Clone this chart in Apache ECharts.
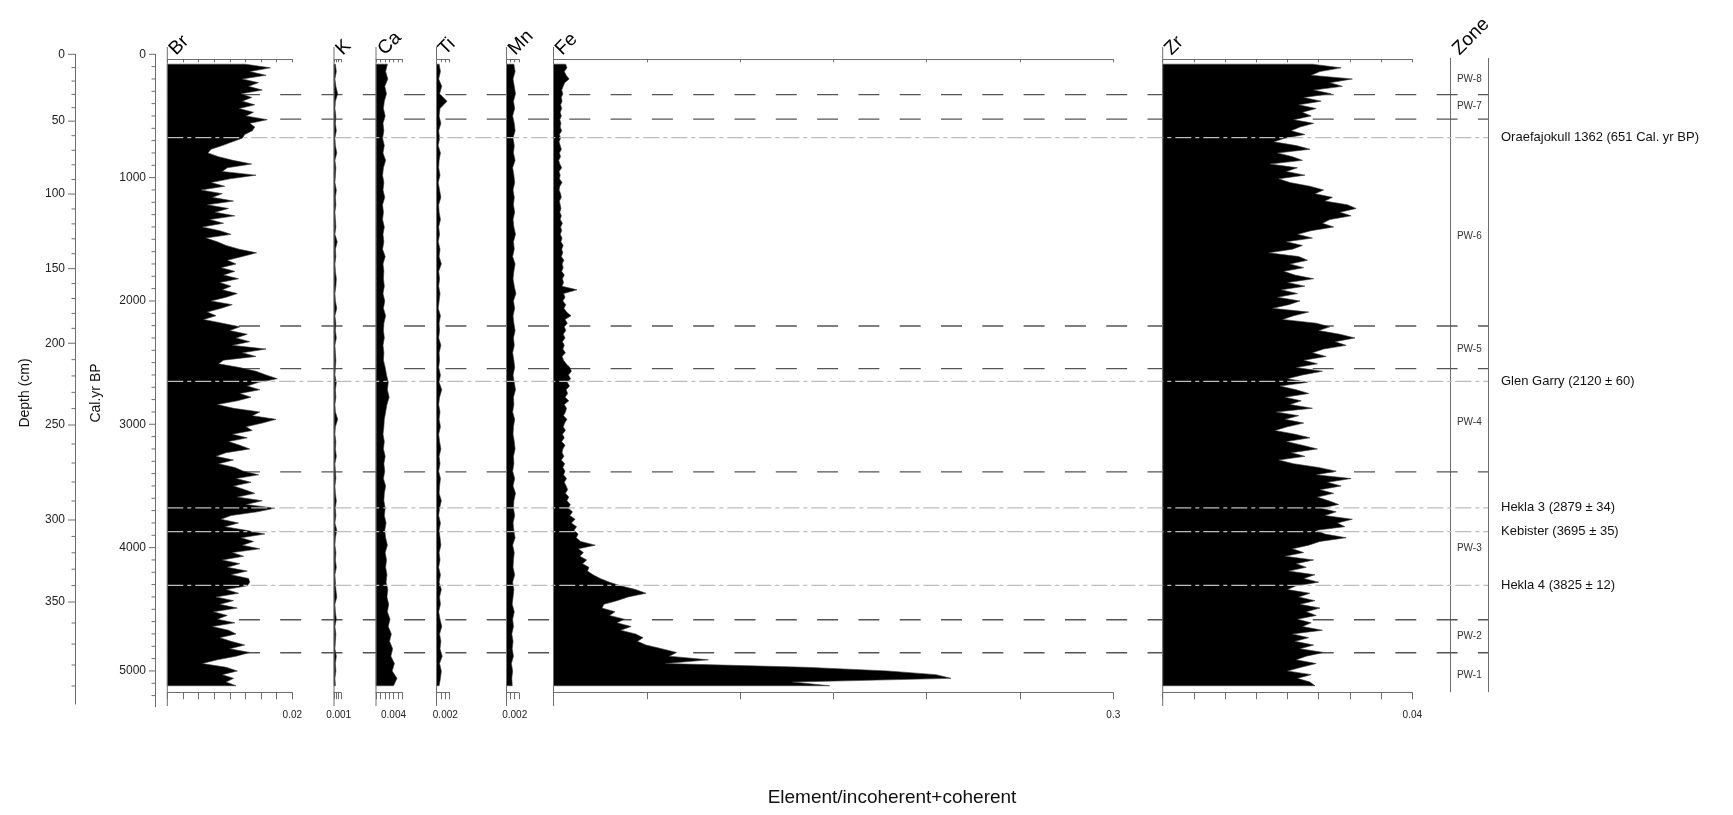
<!DOCTYPE html>
<html><head><meta charset="utf-8">
<script src="https://cdn.jsdelivr.net/npm/echarts@6/dist/echarts.min.js"></script>
<style>html,body{margin:0;padding:0;background:#fff}#c{width:1733px;height:815px}</style>
</head><body><div id="c"></div>
<script>
// ---------------- DATA ----------------
const AGES = [80,110,140,170,200,230,260,290,320,350,
380,410,440,470,500,530,560,590,620,650,
680,710,740,770,800,830,860,890,920,950,
980,1010,1040,1070,1100,1130,1160,1190,1220,1250,
1280,1310,1340,1370,1400,1430,1460,1490,1520,1550,
1580,1610,1640,1670,1700,1730,1760,1790,1820,1850,
1880,1910,1940,1970,2000,2030,2060,2090,2120,2150,
2180,2210,2240,2270,2300,2330,2360,2390,2420,2450,
2480,2510,2540,2570,2600,2630,2660,2690,2720,2750,
2780,2810,2840,2870,2900,2930,2960,2990,3020,3050,
3080,3110,3140,3170,3200,3230,3260,3290,3320,3350,
3380,3410,3440,3470,3500,3530,3560,3590,3620,3650,
3680,3710,3740,3770,3800,3830,3860,3890,3920,3950,
3980,4010,4040,4070,4100,4130,4160,4190,4220,4250,
4280,4310,4340,4370,4400,4430,4460,4490,4520,4550,
4580,4610,4640,4670,4700,4730,4760,4790,4820,4850,
4880,4910,4940,4970,5000,5030,5060,5090,5120];

const AGES_SMALL = [80,140,200,260,320,380,440,500,560,620,
680,740,800,860,920,980,1040,1100,1160,1220,
1280,1340,1400,1460,1520,1580,1640,1700,1760,1820,
1880,1940,2000,2060,2120,2180,2240,2300,2360,2420,
2480,2540,2600,2660,2720,2780,2840,2900,2960,3020,
3080,3140,3200,3260,3320,3380,3440,3500,3560,3620,
3680,3740,3800,3860,3920,3980,4040,4100,4160,4220,
4280,4340,4400,4460,4520,4580,4640,4700,4760,4820,
4880,4940,5000,5060,5120];

const BR = [0.0125,0.0165,0.0132,0.0158,0.0120,0.0146,0.0130,0.0152,0.0118,0.0135,
0.0120,0.0140,0.0115,0.0138,0.0126,0.0160,0.0132,0.0140,0.0136,0.0124,
0.0120,0.0104,0.0088,0.0070,0.0065,0.0082,0.0105,0.0135,0.0096,0.0088,
0.0142,0.0100,0.0070,0.0092,0.0054,0.0088,0.0072,0.0106,0.0064,0.0098,
0.0076,0.0108,0.0068,0.0090,0.0056,0.0084,0.0102,0.0062,0.0080,0.0094,
0.0115,0.0143,0.0120,0.0096,0.0110,0.0086,0.0108,0.0090,0.0114,0.0084,
0.0102,0.0088,0.0112,0.0094,0.0070,0.0104,0.0086,0.0064,0.0078,0.0058,
0.0088,0.0116,0.0100,0.0128,0.0110,0.0132,0.0104,0.0158,0.0120,0.0142,
0.0090,0.0082,0.0116,0.0142,0.0158,0.0176,0.0146,0.0128,0.0148,0.0116,
0.0134,0.0112,0.0080,0.0106,0.0148,0.0136,0.0174,0.0152,0.0126,0.0136,
0.0104,0.0128,0.0098,0.0116,0.0132,0.0094,0.0078,0.0106,0.0082,0.0108,
0.0122,0.0146,0.0110,0.0134,0.0106,0.0124,0.0140,0.0112,0.0152,0.0126,
0.0172,0.0144,0.0102,0.0086,0.0114,0.0092,0.0126,0.0156,0.0118,0.0138,
0.0120,0.0148,0.0104,0.0122,0.0088,0.0116,0.0096,0.0128,0.0102,0.0130,
0.0132,0.0128,0.0094,0.0114,0.0078,0.0106,0.0084,0.0112,0.0074,0.0096,
0.0080,0.0108,0.0072,0.0098,0.0110,0.0084,0.0102,0.0124,0.0100,0.0132,
0.0110,0.0080,0.0056,0.0094,0.0112,0.0088,0.0106,0.0094,0.0110];

const FE = [0.0065,0.0072,0.0058,0.0068,0.0084,0.0060,0.0052,0.0044,0.0050,0.0042,
0.0046,0.0038,0.0044,0.0036,0.0042,0.0034,0.0040,0.0036,0.0044,0.0032,
0.0038,0.0030,0.0036,0.0042,0.0032,0.0038,0.0028,0.0034,0.0044,0.0030,
0.0036,0.0032,0.0046,0.0034,0.0030,0.0038,0.0042,0.0032,0.0036,0.0040,
0.0034,0.0042,0.0036,0.0048,0.0038,0.0044,0.0036,0.0046,0.0040,0.0052,
0.0044,0.0050,0.0042,0.0056,0.0046,0.0052,0.0044,0.0058,0.0048,0.0054,
0.0046,0.0126,0.0054,0.0062,0.0050,0.0066,0.0056,0.0070,0.0094,0.0062,
0.0074,0.0058,0.0066,0.0052,0.0062,0.0048,0.0058,0.0050,0.0064,0.0046,
0.0054,0.0068,0.0088,0.0096,0.0080,0.0092,0.0074,0.0086,0.0068,0.0076,
0.0062,0.0082,0.0058,0.0070,0.0064,0.0054,0.0072,0.0060,0.0052,0.0064,
0.0048,0.0058,0.0044,0.0062,0.0050,0.0046,0.0056,0.0042,0.0060,0.0050,
0.0062,0.0054,0.0070,0.0058,0.0068,0.0076,0.0064,0.0082,0.0072,0.0090,
0.0080,0.0102,0.0088,0.0116,0.0096,0.0124,0.0110,0.0132,0.0122,0.0146,
0.0224,0.0134,0.0160,0.0142,0.0178,0.0156,0.0190,0.0182,0.0212,0.0250,
0.0300,0.0360,0.0440,0.0496,0.0400,0.0340,0.0270,0.0260,0.0330,0.0300,
0.0380,0.0340,0.0416,0.0360,0.0440,0.0480,0.0450,0.0496,0.0580,0.0660,
0.0620,0.0830,0.0600,0.1350,0.1790,0.2050,0.2130,0.1280,0.1480];

const ZR = [0.0240,0.0286,0.0252,0.0238,0.0304,0.0268,0.0288,0.0242,0.0270,0.0226,
0.0254,0.0218,0.0246,0.0224,0.0238,0.0210,0.0242,0.0220,0.0206,0.0228,
0.0196,0.0178,0.0214,0.0236,0.0184,0.0208,0.0224,0.0172,0.0216,0.0198,
0.0228,0.0186,0.0204,0.0236,0.0258,0.0244,0.0272,0.0260,0.0296,0.0310,
0.0284,0.0302,0.0268,0.0256,0.0274,0.0238,0.0216,0.0240,0.0198,0.0224,
0.0208,0.0170,0.0218,0.0232,0.0204,0.0226,0.0194,0.0212,0.0242,0.0200,
0.0228,0.0190,0.0216,0.0184,0.0220,0.0202,0.0176,0.0234,0.0210,0.0192,
0.0246,0.0268,0.0250,0.0284,0.0308,0.0276,0.0294,0.0258,0.0240,0.0262,
0.0226,0.0248,0.0214,0.0256,0.0224,0.0200,0.0232,0.0188,0.0214,0.0234,
0.0196,0.0222,0.0204,0.0240,0.0182,0.0218,0.0196,0.0226,0.0200,0.0180,
0.0212,0.0236,0.0198,0.0224,0.0248,0.0206,0.0228,0.0186,0.0210,0.0250,
0.0278,0.0246,0.0302,0.0264,0.0286,0.0252,0.0274,0.0248,0.0266,0.0282,
0.0254,0.0278,0.0260,0.0304,0.0280,0.0292,0.0246,0.0260,0.0294,0.0252,
0.0234,0.0208,0.0226,0.0196,0.0242,0.0214,0.0230,0.0202,0.0244,0.0226,
0.0250,0.0214,0.0200,0.0236,0.0218,0.0244,0.0220,0.0252,0.0230,0.0246,
0.0216,0.0238,0.0224,0.0256,0.0208,0.0234,0.0212,0.0242,0.0220,0.0258,
0.0230,0.0214,0.0246,0.0222,0.0200,0.0238,0.0216,0.0236,0.0244];

const K = [0.0003,0.0005,0.0002,0.0004,0.0008,0.0003,0.0002,0.0004,0.0003,0.0005,
0.0002,0.0003,0.0006,0.0002,0.0004,0.0003,0.0002,0.0005,0.0003,0.0004,
0.0002,0.0003,0.0004,0.0002,0.0007,0.0003,0.0004,0.0002,0.0003,0.0005,
0.0004,0.0002,0.0003,0.0006,0.0002,0.0004,0.0003,0.0005,0.0002,0.0003,
0.0004,0.0003,0.0002,0.0005,0.0003,0.0004,0.0002,0.0003,0.0008,0.0003,
0.0002,0.0004,0.0003,0.0005,0.0002,0.0003,0.0004,0.0002,0.0003,0.0005,
0.0003,0.0004,0.0002,0.0006,0.0003,0.0002,0.0004,0.0003,0.0005,0.0002,
0.0003,0.0004,0.0006,0.0002,0.0003,0.0005,0.0002,0.0004,0.0003,0.0002,
0.0005,0.0003,0.0004,0.0002,0.0003];

const CA = [0.0026,0.0022,0.0027,0.0020,0.0024,0.0019,0.0017,0.0021,0.0016,0.0018,
0.0015,0.0019,0.0016,0.0022,0.0017,0.0015,0.0018,0.0016,0.0020,0.0015,
0.0017,0.0015,0.0019,0.0016,0.0018,0.0015,0.0021,0.0016,0.0018,0.0017,
0.0019,0.0016,0.0020,0.0017,0.0022,0.0018,0.0017,0.0019,0.0016,0.0018,
0.0017,0.0021,0.0024,0.0028,0.0026,0.0030,0.0025,0.0022,0.0019,0.0018,
0.0016,0.0019,0.0017,0.0021,0.0018,0.0020,0.0017,0.0022,0.0019,0.0018,
0.0021,0.0019,0.0023,0.0020,0.0022,0.0026,0.0021,0.0024,0.0022,0.0025,
0.0023,0.0027,0.0025,0.0029,0.0026,0.0032,0.0028,0.0035,0.0031,0.0038,
0.0034,0.0042,0.0037,0.0048,0.0040];

const TI = [0.0006,0.0009,0.0005,0.0012,0.0007,0.0024,0.0008,0.0006,0.0010,0.0005,
0.0007,0.0004,0.0009,0.0006,0.0005,0.0008,0.0004,0.0007,0.0010,0.0005,
0.0006,0.0009,0.0005,0.0007,0.0004,0.0008,0.0006,0.0011,0.0005,0.0007,
0.0005,0.0008,0.0006,0.0004,0.0009,0.0006,0.0007,0.0005,0.0010,0.0006,
0.0007,0.0005,0.0009,0.0006,0.0012,0.0007,0.0005,0.0008,0.0006,0.0009,
0.0005,0.0007,0.0010,0.0006,0.0008,0.0005,0.0009,0.0007,0.0006,0.0011,
0.0007,0.0005,0.0009,0.0006,0.0008,0.0010,0.0006,0.0008,0.0005,0.0009,
0.0006,0.0011,0.0007,0.0009,0.0005,0.0008,0.0012,0.0007,0.0010,0.0008,
0.0013,0.0007,0.0011,0.0009,0.0006];

const MN = [0.0018,0.0021,0.0016,0.0019,0.0022,0.0017,0.0020,0.0015,0.0019,0.0021,
0.0016,0.0019,0.0017,0.0021,0.0015,0.0018,0.0020,0.0016,0.0019,0.0017,
0.0020,0.0016,0.0018,0.0022,0.0017,0.0019,0.0015,0.0021,0.0018,0.0016,
0.0019,0.0023,0.0017,0.0020,0.0016,0.0018,0.0021,0.0017,0.0019,0.0015,
0.0018,0.0020,0.0016,0.0019,0.0022,0.0017,0.0018,0.0015,0.0020,0.0017,
0.0016,0.0019,0.0021,0.0017,0.0018,0.0015,0.0020,0.0016,0.0022,0.0018,
0.0017,0.0020,0.0016,0.0018,0.0021,0.0015,0.0019,0.0017,0.0016,0.0020,
0.0015,0.0018,0.0016,0.0014,0.0019,0.0015,0.0017,0.0013,0.0016,0.0014,
0.0017,0.0012,0.0015,0.0013,0.0014];

const ELEMENTS = ['Br','K','Ca','Ti','Mn','Fe','Zr'];
const AXIS_MAX = [0.02, 0.0015, 0.006, 0.003, 0.003, 0.3, 0.04];
const AXIS_STEP = [0.0025, 0.0005, 0.001, 0.001, 0.001, 0.05, 0.005];
const TICK_LABELS = ['0.02','0.001','0.004','0.002','0.002','0.3','0.04'];

const DEPTH_TICKS = [0,10,20,30,40,50,60,70,80,90,100,110,120,130,140,150,160,170,180,190,200,210,220,230,240,250,260,270,280,290,300,310,320,330,340,350,360,370,380,390];
const DEPTH_TICK_AGES = [0,108,217,325,433,542,660,778,896,1015,1133,1254,1375,1496,1617,1738,1859,1980,2101,2222,2343,2476,2608,2741,2873,3006,3160,3314,3468,3622,3776,3909,4042,4175,4308,4441,4611,4782,4952,5122];
const CAL_LABELS = [0,1000,2000,3000,4000,5000];

const ZONE_BOUNDS = [327,526,2203,2549,3386,4585,4852];
const ZONE_NAMES = ['PW-8','PW-7','PW-6','PW-5','PW-4','PW-3','PW-2','PW-1'];
const ZONE_LABEL_AGES = [200,425,1477,2390,2984,4006,4722,5033];
const TEPHRA_NAMES = ['Oraefajokull 1362 (651 Cal. yr BP)','Glen Garry (2120 \u00b1 60)','Hekla 3 (2879 \u00b1 34)','Kebister (3695 \u00b1 35)','Hekla 4 (3825 \u00b1 12)'];
const TEPHRA_AGES = [676,2652,3677,3870,4306];

// ---------------- LAYOUT ----------------
const FONT = 'Liberation Sans, Arial, sans-serif';
const AX = '#6e6e6e';
const Y0 = 54.3, PXY = 0.12333;           // Cal axis: y of age 0, px per year
const PT = 59.3, PB = 692.7;               // panel top / bottom axis lines
const ageOfY = y => (y - Y0) / PXY;
const PANEL_LEFT = [167.3, 334, 376, 436.5, 506.5, 553.5, 1162.7];
const PANEL_WIDTH = [125, 7, 26.3, 13.2, 12.3, 559.8, 249.6];
const PANEL_DATA = [[AGES,BR],[AGES_SMALL,K],[AGES_SMALL,CA],[AGES_SMALL,TI],[AGES_SMALL,MN],[AGES,FE],[AGES,ZR]];
const ZONE_L = 1450.7, ZONE_R = 1488;
const TITLE_SIZE = 19;

const grids = [], xAxes = [], yAxes = [], series = [], graphics = [];

function profile(xi, yi, ages, vals){
  return {type:'custom', xAxisIndex:xi, yAxisIndex:yi, z:3, silent:true, clip:false,
    data:[[0, ages[0]]],
    renderItem:function(params, api){
      const pts = [api.coord([0, ages[0]])];
      for (let i = 0; i < ages.length; i++) pts.push(api.coord([vals[i], ages[i]]));
      pts.push(api.coord([0, ages[ages.length-1]]));
      return {type:'polygon', shape:{points:pts}, style:{fill:'#000', stroke:'#3c3c3c', lineWidth:0.6}};
    }};
}

function title(x, text){
  graphics.push({type:'text', x:x + 5, y:52, rotation:Math.PI/4, silent:true,
    style:{text:text, fontSize:TITLE_SIZE, fontFamily:FONT, fill:'#000', align:'left', verticalAlign:'middle'}});
}

ELEMENTS.forEach((name, i) => {
  const gi = grids.push({left:PANEL_LEFT[i], top:PT, width:PANEL_WIDTH[i], height:PB-PT, outerBoundsMode:'none'}) - 1;
  const lab = TICK_LABELS[i], labV = parseFloat(lab), step = AXIS_STEP[i];
  const xb = xAxes.push({gridIndex:gi, type:'value', position:'bottom', min:0, max:AXIS_MAX[i], interval:step,
    axisLine:{show:true, onZero:false, lineStyle:{color:AX, width:1}},
    axisTick:{show:true, inside:false, length:6.5, lineStyle:{color:AX}},
    axisLabel:{show:true, margin:18, fontSize:10, color:'#222', fontFamily:FONT, showMaxLabel:true, showMinLabel:true,
      formatter: v => Math.abs(v - labV) < step*0.01 ? lab : ''},
    splitLine:{show:false}}) - 1;
  xAxes.push({gridIndex:gi, type:'value', position:'top', min:0, max:AXIS_MAX[i], interval:step,
    axisLine:{show:true, onZero:false, lineStyle:{color:AX, width:1}},
    axisTick:{show:true, inside:true, length:3, lineStyle:{color:AX}},
    axisLabel:{show:false}, splitLine:{show:false}});
  const yi = yAxes.push({gridIndex:gi, type:'value', min:ageOfY(PT), max:ageOfY(PB), inverse:true, show:false}) - 1;
  series.push(profile(xb, yi, PANEL_DATA[i][0], PANEL_DATA[i][1]));
  graphics.push({type:'line', z:50, silent:true, shape:{x1:PANEL_LEFT[i], y1:47, x2:PANEL_LEFT[i], y2:706}, style:{stroke:AX, lineWidth:1}});
  title(PANEL_LEFT[i], name);
});

// overlay grid for zone boundaries and tephra lines
{
  const gi = grids.push({left:PANEL_LEFT[0], top:PT, width:ZONE_R-PANEL_LEFT[0], height:PB-PT, outerBoundsMode:'none'}) - 1;
  const xi = xAxes.push({gridIndex:gi, type:'value', min:0, max:1, show:false}) - 1;
  const yi = yAxes.push({gridIndex:gi, type:'value', min:ageOfY(PT), max:ageOfY(PB), inverse:true, show:false}) - 1;
  const lineItem = (stroke, dash, off, w) => function(params, api){
    const a = api.value(1), p1 = api.coord([0, a]), p2 = api.coord([1, a]);
    return {type:'line', shape:{x1:p1[0], y1:p1[1], x2:p2[0], y2:p2[1]},
      style:{stroke:stroke, lineWidth:w, lineDash:dash, lineDashOffset:off}};
  };
  series.push({type:'custom', xAxisIndex:xi, yAxisIndex:yi, z:1, silent:true,
    data:ZONE_BOUNDS.map(a => [0, a]), renderItem:lineItem('#555', [21,20.3], 11, 1.4)});
  series.push({type:'custom', xAxisIndex:xi, yAxisIndex:yi, z:6, silent:true,
    data:TEPHRA_AGES.map(a => [0, a]), renderItem:lineItem('#bdbdbd', [16,4,4,4], 0, 1.3)});
}

// zone column
{
  const top = 58.3, bot = 691.8;
  const gi = grids.push({left:ZONE_L, top:top, width:ZONE_R-ZONE_L, height:bot-top, outerBoundsMode:'none'}) - 1;
  const xi = xAxes.push({gridIndex:gi, type:'value', min:0, max:1, show:false}) - 1;
  const common = {gridIndex:gi, type:'value', min:ageOfY(top), max:ageOfY(bot), inverse:true,
    axisLine:{show:true, lineStyle:{color:AX, width:1}}, axisTick:{show:false}, axisLabel:{show:false}, splitLine:{show:false}};
  const yi = yAxes.push(Object.assign({position:'left'}, common)) - 1;
  yAxes.push(Object.assign({position:'right'}, common));
  series.push({type:'custom', xAxisIndex:xi, yAxisIndex:yi, z:4, silent:true,
    data:ZONE_LABEL_AGES.map((a, i) => [0.5, a, i]),
    renderItem:function(params, api){
      const p = api.coord([api.value(0), api.value(1)]);
      return {type:'text', x:p[0], y:p[1], style:{text:ZONE_NAMES[api.value(2)], fontSize:10, fontFamily:FONT, fill:'#333', align:'center', verticalAlign:'middle'}};
    }});
  title(ZONE_L, 'Zone');
}

// tephra labels
{
  const gi = grids.push({left:1501, top:PT, width:220, height:PB-PT, outerBoundsMode:'none'}) - 1;
  const xi = xAxes.push({gridIndex:gi, type:'value', min:0, max:1, show:false}) - 1;
  const yi = yAxes.push({gridIndex:gi, type:'value', min:ageOfY(PT), max:ageOfY(PB), inverse:true, show:false}) - 1;
  series.push({type:'custom', xAxisIndex:xi, yAxisIndex:yi, z:4, silent:true,
    data:TEPHRA_AGES.map((a, i) => [0, a, i]),
    renderItem:function(params, api){
      const p = api.coord([0, api.value(1)]);
      return {type:'text', x:p[0], y:p[1], style:{text:TEPHRA_NAMES[api.value(2)], fontSize:13, fontFamily:FONT, fill:'#111', align:'left', verticalAlign:'middle'}};
    }});
}

// depth axis (non-linear against age)
{
  const bot = 704;
  const gi = grids.push({left:75, top:Y0, width:1, height:bot-Y0, outerBoundsMode:'none'}) - 1;
  const xi = xAxes.push({gridIndex:gi, type:'value', min:0, max:1, show:false}) - 1;
  const yi = yAxes.push({gridIndex:gi, type:'value', min:0, max:ageOfY(bot), inverse:true, position:'left',
    axisLine:{show:true, lineStyle:{color:AX, width:1}}, axisTick:{show:false}, axisLabel:{show:false}, splitLine:{show:false}}) - 1;
  series.push({type:'custom', xAxisIndex:xi, yAxisIndex:yi, z:4, silent:true, clip:false,
    data:DEPTH_TICKS.map((d, i) => [0, DEPTH_TICK_AGES[i], d]),
    renderItem:function(params, api){
      const p = api.coord([0, api.value(1)]), d = api.value(2), major = d % 50 === 0;
      const ch = [{type:'line', shape:{x1:p[0]-(major?7:3.5), y1:p[1], x2:p[0], y2:p[1]}, style:{stroke:AX, lineWidth:1}}];
      if (major) ch.push({type:'text', x:p[0]-10, y:p[1], style:{text:String(d), fontSize:12, fontFamily:FONT, fill:'#222', align:'right', verticalAlign:'middle'}});
      return {type:'group', children:ch};
    }});
}

// Cal yr BP axis
{
  const bot = 706.7;
  const gi = grids.push({left:155, top:Y0, width:1, height:bot-Y0, outerBoundsMode:'none'}) - 1;
  const xi = xAxes.push({gridIndex:gi, type:'value', min:0, max:1, show:false}) - 1;
  const yi = yAxes.push({gridIndex:gi, type:'value', min:0, max:ageOfY(bot), inverse:true, position:'left',
    axisLine:{show:true, lineStyle:{color:AX, width:1}}, axisTick:{show:false}, axisLabel:{show:false}, splitLine:{show:false}}) - 1;
  const minor = [];
  for (let a = 0; a <= ageOfY(bot); a += 100) minor.push([0, a, CAL_LABELS.indexOf(a) >= 0 ? 1 : 0]);
  series.push({type:'custom', xAxisIndex:xi, yAxisIndex:yi, z:4, silent:true, clip:false,
    data:minor,
    renderItem:function(params, api){
      const a = api.value(1), p = api.coord([0, a]), major = api.value(2) === 1;
      const ch = [{type:'line', shape:{x1:p[0]-(major?6:3.5), y1:p[1], x2:p[0], y2:p[1]}, style:{stroke:AX, lineWidth:1}}];
      if (major) ch.push({type:'text', x:p[0]-9, y:p[1], style:{text:String(a), fontSize:12, fontFamily:FONT, fill:'#222', align:'right', verticalAlign:'middle'}});
      return {type:'group', children:ch};
    }});
}

graphics.push({type:'text', x:25, y:393, rotation:Math.PI/2, silent:true,
  style:{text:'Depth (cm)', fontSize:14, fontFamily:FONT, fill:'#111', align:'center', verticalAlign:'middle'}});
graphics.push({type:'text', x:96, y:393, rotation:Math.PI/2, silent:true,
  style:{text:'Cal.yr BP', fontSize:14, fontFamily:FONT, fill:'#111', align:'center', verticalAlign:'middle'}});
graphics.push({type:'text', x:892, y:798, silent:true,
  style:{text:'Element/incoherent+coherent', fontSize:19, fontFamily:FONT, fill:'#111', align:'center', verticalAlign:'middle'}});

const chart = echarts.init(document.getElementById('c'), null, {renderer:'canvas'});
chart.setOption({animation:false, backgroundColor:'#fff', grid:grids, xAxis:xAxes, yAxis:yAxes, series:series, graphic:{elements:graphics}});
</script></body></html>
